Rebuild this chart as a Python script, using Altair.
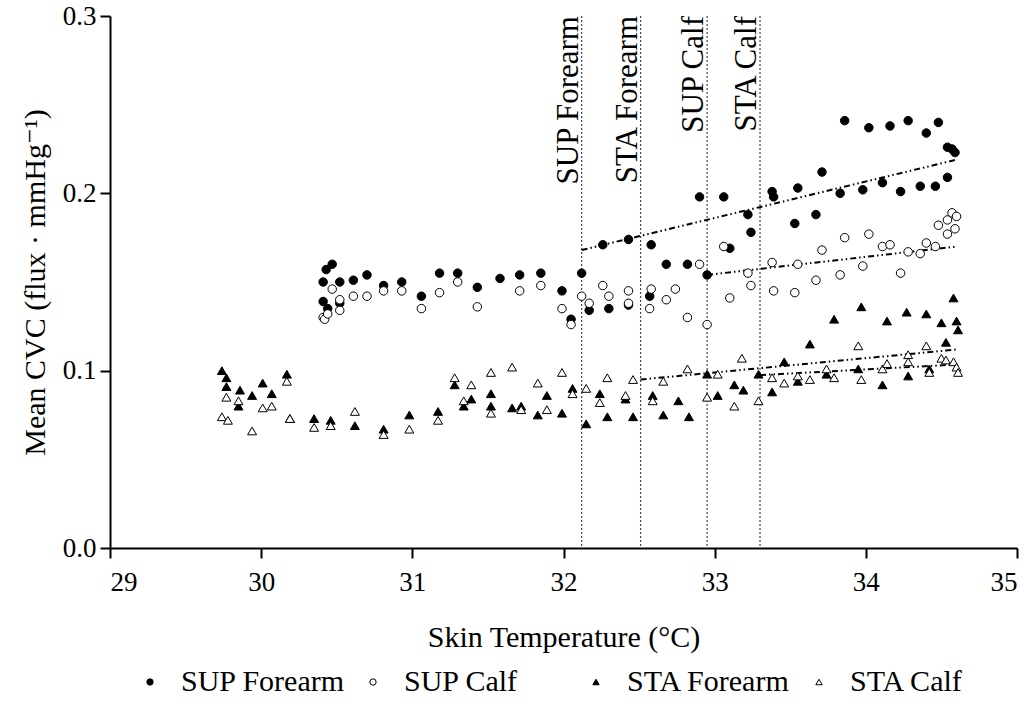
import altair as alt
import pandas as pd

FONT = "Liberation Serif, DejaVu Serif, Noto Serif, serif"

series_names = ["SUP Forearm", "SUP Calf", "STA Forearm", "STA Calf"]
series_fill = ["black", "white", "black", "white"]
series_shape = ["circle", "circle", "triangle-up", "triangle-up"]
series_stroke = ["black", "black", "black", "black"]

sup_forearm_x = [30.41, 30.41, 30.43, 30.44, 30.47, 30.52, 30.52, 30.61, 30.70, 30.81,
                 30.93, 31.06, 31.18, 31.30, 31.43, 31.58, 31.71, 31.85, 31.99, 32.05,
                 32.12, 32.17, 32.26, 32.30, 32.43, 32.43, 32.57, 32.58, 32.68, 32.82,
                 32.90, 32.95, 33.06, 33.10, 33.22, 33.24, 33.38, 33.39, 33.53, 33.55,
                 33.67, 33.71, 33.83, 33.86, 33.98, 34.02, 34.11, 34.16, 34.23, 34.28,
                 34.36, 34.40, 34.46, 34.48, 34.54, 34.54, 34.57, 34.59]
sup_forearm_y = [0.150, 0.139, 0.157, 0.135, 0.160, 0.150, 0.138, 0.151, 0.154, 0.148,
                 0.150, 0.142, 0.155, 0.155, 0.147, 0.152, 0.154, 0.155, 0.145, 0.129,
                 0.155, 0.134, 0.171, 0.135, 0.174, 0.137, 0.142, 0.171, 0.160, 0.160,
                 0.198, 0.154, 0.198, 0.169, 0.188, 0.178, 0.201, 0.198, 0.183, 0.203,
                 0.188, 0.212, 0.200, 0.241, 0.202, 0.237, 0.206, 0.238, 0.201, 0.241,
                 0.204, 0.234, 0.204, 0.240, 0.209, 0.226, 0.225, 0.223]

sup_calf_x = [30.41, 30.42, 30.44, 30.47, 30.52, 30.52, 30.61, 30.70, 30.81, 30.93,
              31.06, 31.18, 31.30, 31.43, 31.71, 31.85, 31.99, 32.05, 32.12, 32.17,
              32.26, 32.30, 32.43, 32.43, 32.57, 32.58, 32.68, 32.74, 32.82, 32.90,
              32.95, 33.06, 33.10, 33.22, 33.24, 33.38, 33.39, 33.53, 33.55, 33.67,
              33.71, 33.83, 33.86, 33.98, 34.02, 34.11, 34.16, 34.23, 34.28, 34.36,
              34.40, 34.46, 34.48, 34.54, 34.54, 34.57, 34.59, 34.60]
sup_calf_y = [0.130, 0.129, 0.132, 0.146, 0.140, 0.134, 0.142, 0.142, 0.145, 0.145,
              0.135, 0.144, 0.150, 0.136, 0.145, 0.148, 0.135, 0.126, 0.142, 0.138,
              0.148, 0.142, 0.145, 0.138, 0.135, 0.146, 0.140, 0.146, 0.130, 0.160,
              0.126, 0.170, 0.141, 0.155, 0.148, 0.161, 0.145, 0.144, 0.160, 0.151,
              0.168, 0.154, 0.175, 0.159, 0.177, 0.170, 0.171, 0.155, 0.167, 0.166,
              0.172, 0.170, 0.182, 0.177, 0.185, 0.189, 0.180, 0.187]

sta_forearm_x = [29.74, 29.77, 29.77, 29.85, 29.86, 29.94, 30.01, 30.07, 30.17, 30.19,
                 30.35, 30.46, 30.62, 30.81, 30.98, 31.17, 31.28, 31.34, 31.39, 31.52,
                 31.52, 31.66, 31.72, 31.83, 31.89, 31.99, 32.06, 32.15, 32.24, 32.29,
                 32.41, 32.46, 32.59, 32.66, 32.76, 32.83, 32.95, 33.02, 33.13, 33.19,
                 33.29, 33.38, 33.46, 33.55, 33.63, 33.74, 33.79, 33.95, 33.97, 34.11,
                 34.14, 34.27, 34.28, 34.40, 34.42, 34.50, 34.53, 34.58, 34.60, 34.61]
sta_forearm_y = [0.100, 0.096, 0.091, 0.080, 0.089, 0.086, 0.093, 0.087, 0.098, 0.073,
                 0.073, 0.072, 0.069, 0.067, 0.075, 0.077, 0.092, 0.080, 0.084, 0.087,
                 0.080, 0.079, 0.080, 0.075, 0.086, 0.076, 0.090, 0.070, 0.087, 0.074,
                 0.084, 0.074, 0.086, 0.075, 0.083, 0.074, 0.098, 0.086, 0.092, 0.089,
                 0.098, 0.088, 0.105, 0.094, 0.115, 0.098, 0.129, 0.101, 0.136, 0.092,
                 0.128, 0.133, 0.097, 0.132, 0.101, 0.127, 0.116, 0.141, 0.128, 0.123]

sta_calf_x = [29.74, 29.77, 29.78, 29.85, 29.94, 30.01, 30.07, 30.17, 30.19, 30.35,
              30.46, 30.62, 30.81, 30.98, 31.17, 31.28, 31.34, 31.39, 31.52, 31.52,
              31.66, 31.72, 31.83, 31.89, 31.99, 32.06, 32.15, 32.24, 32.29, 32.41,
              32.46, 32.59, 32.66, 32.82, 32.95, 33.02, 33.13, 33.18, 33.29, 33.38,
              33.46, 33.55, 33.63, 33.74, 33.79, 33.95, 33.97, 34.11, 34.14, 34.28,
              34.28, 34.40, 34.42, 34.50, 34.53, 34.58, 34.60, 34.61]
sta_calf_y = [0.074, 0.085, 0.072, 0.083, 0.066, 0.079, 0.080, 0.094, 0.073, 0.068,
              0.069, 0.077, 0.064, 0.067, 0.072, 0.096, 0.083, 0.092, 0.099, 0.076,
              0.102, 0.078, 0.093, 0.078, 0.099, 0.087, 0.090, 0.082, 0.096, 0.086,
              0.095, 0.083, 0.094, 0.101, 0.085, 0.098, 0.080, 0.107, 0.083, 0.096,
              0.093, 0.097, 0.095, 0.101, 0.096, 0.114, 0.095, 0.101, 0.104, 0.109,
              0.105, 0.114, 0.099, 0.107, 0.106, 0.105, 0.102, 0.099]

# vertical reference lines (threshold temperatures)
ref_labels = ["SUP Forearm", "STA Forearm", "SUP Calf", "STA Calf"]
ref_x = [32.12, 32.51, 32.95, 33.30]

# fitted lines above threshold
fit_series = ["SUP Forearm", "SUP Calf", "STA Forearm", "STA Calf"]
fit_x0 = [32.12, 32.95, 32.51, 33.30]
fit_x1 = [34.60, 34.60, 34.61, 34.61]
fit_y0 = [0.168, 0.154, 0.095, 0.0975]
fit_y1 = [0.219, 0.170, 0.112, 0.1035]

x_ticks = [29, 30, 31, 32, 33, 34, 35]
y_ticks = [0.0, 0.1, 0.2, 0.3]

rows = []
for name, xs, ys in zip(series_names,
                        [sup_forearm_x, sup_calf_x, sta_forearm_x, sta_calf_x],
                        [sup_forearm_y, sup_calf_y, sta_forearm_y, sta_calf_y]):
    for xv, yv in zip(xs, ys):
        rows.append({"series": name, "temp": xv, "cvc": yv})
df = pd.DataFrame(rows)
ref_df = pd.DataFrame({"label": ref_labels, "temp": ref_x})
fit_df = pd.DataFrame({"series": fit_series, "x0": fit_x0, "x1": fit_x1,
                       "y0": fit_y0, "y1": fit_y1})

xscale = alt.Scale(domain=[29, 35], nice=False, zero=False)
yscale = alt.Scale(domain=[0, 0.3], nice=False)

xaxis = alt.Axis(title="Skin Temperature (°C)", values=x_ticks, format="d",
                 labelPadding=11, titlePadding=27)
yaxis = alt.Axis(title="Mean CVC (flux · mmHg⁻¹)", values=y_ticks, format=".1f",
                 labelPadding=4, titlePadding=12)

legend = alt.Legend(title=None, orient="none", legendX=25, legendY=651,
                    direction="horizontal", columns=4, gridAlign="all",
                    columnPadding=12, labelOffset=16, symbolSize=40,
                    symbolStrokeColor="black", symbolStrokeWidth=1,
                    labelFont=FONT, labelFontSize=30, labelColor="black",
                    labelLimit=400)

points = alt.Chart(df).mark_point(filled=True, strokeWidth=1, opacity=1).encode(
    x=alt.X("temp:Q", scale=xscale, axis=xaxis),
    y=alt.Y("cvc:Q", scale=yscale, axis=yaxis),
    fill=alt.Fill("series:N", scale=alt.Scale(domain=series_names, range=series_fill), legend=legend),
    stroke=alt.Stroke("series:N", scale=alt.Scale(domain=series_names, range=series_stroke), legend=legend),
    shape=alt.Shape("series:N", scale=alt.Scale(domain=series_names, range=series_shape), legend=legend),
    size=alt.condition("indexof(datum.series, 'SUP') === 0", alt.value(72), alt.value(80)),
)

rules = alt.Chart(ref_df).mark_rule(color="#444444", strokeWidth=1.2, strokeDash=[2, 2]).encode(
    x=alt.X("temp:Q", scale=xscale),
    y=alt.value(0),
    y2=alt.value(532),
)

labels = alt.Chart(ref_df).mark_text(angle=270, align="right", baseline="alphabetic",
                                     dx=0, dy=-4, font=FONT, fontSize=31, color="black").encode(
    x=alt.X("temp:Q", scale=xscale),
    y=alt.value(0),
    text="label:N",
)

fits = alt.Chart(fit_df).mark_rule(color="black", strokeWidth=2,
                                   strokeDash=[6, 3, 1.5, 3, 1.5, 3]).encode(
    x=alt.X("x0:Q", scale=xscale),
    x2="x1:Q",
    y=alt.Y("y0:Q", scale=yscale),
    y2="y1:Q",
)

chart = alt.layer(rules, fits, points, labels).properties(
    width=907, height=532,
    autosize=alt.AutoSizeParams(type="none"),
    padding={"left": 110, "top": 16, "right": 17, "bottom": 160},
).configure_view(stroke=None).configure_axis(
    domainColor="black", domainWidth=2, tickColor="black", tickWidth=2, tickSize=10,
    labelFont=FONT, labelFontSize=27, labelColor="black",
    titleFont=FONT, titleFontSize=30, titleFontWeight="normal", titleColor="black",
    grid=False,
)

chart.save("out.html", embed_options={"renderer": "svg", "actions": False})
